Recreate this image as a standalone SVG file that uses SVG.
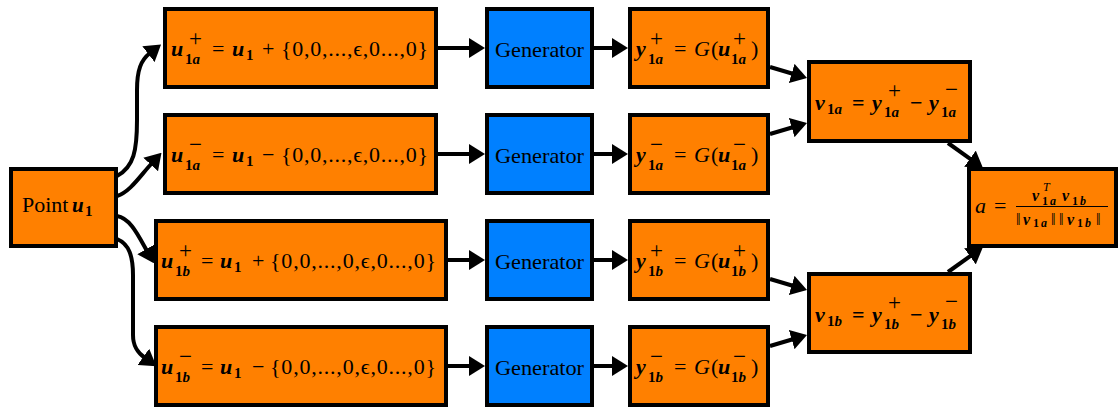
<svg xmlns="http://www.w3.org/2000/svg" width="1118" height="408" viewBox="0 0 1118 408">
<style>
.box{fill:#FF8000;stroke:#000;stroke-width:4}
.gen{fill:#0080FF;stroke:#000;stroke-width:4}
.t{font-family:"Liberation Serif","DejaVu Serif",serif;font-size:22px;fill:#000}
.bi{font-weight:bold;font-style:italic}
.b{font-weight:bold}
.n{font-weight:normal}
.i{font-style:italic}
.s{font-size:15px}
.sp{font-size:23px;font-weight:normal}
.c{fill:none;stroke:#000;stroke-width:4}
.f{font-size:16px}
.fs{font-size:12px}
.g{font-size:21px}
</style>
<defs>
<marker id="ah" markerUnits="userSpaceOnUse" viewBox="0 0 16 20" refX="2" refY="10" markerWidth="16" markerHeight="20" orient="auto">
<path d="M0,0 L16,10 L0,20 Z" fill="#000"/>
</marker>
</defs>
<g id="connectors" class="c" marker-end="url(#ah)">
<path d="M117,176 C134,167 137,150 137,120 L137,90 C137,70 141,60 150,53"/>
<path d="M117,196 C130,192 140,176 152,163"/>
<path d="M117,216 C130,218 138,235 147,251"/>
<path d="M117,239 C129,244 133,256 133,275 L133,335 C133,347 138,353 145,358"/>
<path d="M436,48 L471,48"/>
<path d="M436,154 L471,154"/>
<path d="M446,260 L471,260"/>
<path d="M446,366 L471,366"/>
<path d="M592,48 L614,48"/>
<path d="M592,154 L614,154"/>
<path d="M592,260 L614,260"/>
<path d="M592,366 L614,366"/>
<path d="M770,67 L793.6,74"/>
<path d="M770,134 L793.6,127"/>
<path d="M770,279 L793.6,286"/>
<path d="M770,346 L793.6,339"/>
<path d="M948,143 L971.6,159.9"/>
<path d="M948,272 L971.6,255.1"/>
</g>
<g id="point">
<rect class="box" x="11" y="169" width="105" height="77"/>
<text class="t" x="22" y="212" font-size="20">Point <tspan x="72" class="bi" font-size="21">u</tspan><tspan x="85" y="216" class="s b">1</tspan></text>
</g>
<g id="u1a-plus">
<rect class="box" x="165" y="9" width="271" height="78"/>
<text class="t" y="56"><tspan x="171" class="bi">u</tspan><tspan x="185" y="64" class="s b">1</tspan><tspan class="s bi">a</tspan><tspan x="189" y="46" class="sp">+</tspan><tspan x="212" y="56">=</tspan><tspan x="232" class="bi">u</tspan><tspan x="246" y="60" class="s b">1</tspan><tspan x="262" y="56">+</tspan></text>
<text class="t" x="281" y="56" textLength="147" lengthAdjust="spacing">{0,0,...,ϵ,0...,0}</text>
</g>
<g id="u1a-minus">
<rect class="box" x="165" y="115" width="271" height="78"/>
<text class="t" y="162"><tspan x="171" class="bi">u</tspan><tspan x="185" y="170" class="s b">1</tspan><tspan class="s bi">a</tspan><tspan x="189" y="152" class="sp">−</tspan><tspan x="212" y="162">=</tspan><tspan x="232" class="bi">u</tspan><tspan x="246" y="166" class="s b">1</tspan><tspan x="262" y="162">−</tspan></text>
<text class="t" x="281" y="162" textLength="147" lengthAdjust="spacing">{0,0,...,ϵ,0...,0}</text>
</g>
<g id="u1b-plus">
<rect class="box" x="156" y="221" width="290" height="78"/>
<text class="t" y="268"><tspan x="161" class="bi">u</tspan><tspan x="175" y="276" class="s b">1</tspan><tspan class="s bi">b</tspan><tspan x="179" y="258" class="sp">+</tspan><tspan x="201" y="268">=</tspan><tspan x="220" class="bi">u</tspan><tspan x="234" y="272" class="s b">1</tspan><tspan x="252" y="268">+</tspan></text>
<text class="t" x="270" y="268" textLength="166" lengthAdjust="spacing">{0,0,...,0,ϵ,0...,0}</text>
</g>
<g id="u1b-minus">
<rect class="box" x="156" y="327" width="290" height="78"/>
<text class="t" y="374"><tspan x="161" class="bi">u</tspan><tspan x="175" y="382" class="s b">1</tspan><tspan class="s bi">b</tspan><tspan x="179" y="364" class="sp">−</tspan><tspan x="201" y="374">=</tspan><tspan x="220" class="bi">u</tspan><tspan x="234" y="378" class="s b">1</tspan><tspan x="252" y="374">−</tspan></text>
<text class="t" x="270" y="374" textLength="166" lengthAdjust="spacing">{0,0,...,0,ϵ,0...,0}</text>
</g>
<g id="gen1"><rect class="gen" x="487" y="9" width="105" height="78"/><text class="t g" x="495" y="57" textLength="89" lengthAdjust="spacingAndGlyphs">Generator</text></g>
<g id="gen2"><rect class="gen" x="487" y="115" width="105" height="78"/><text class="t g" x="495" y="163" textLength="89" lengthAdjust="spacingAndGlyphs">Generator</text></g>
<g id="gen3"><rect class="gen" x="487" y="221" width="105" height="78"/><text class="t g" x="495" y="269" textLength="89" lengthAdjust="spacingAndGlyphs">Generator</text></g>
<g id="gen4"><rect class="gen" x="487" y="327" width="105" height="78"/><text class="t g" x="495" y="375" textLength="89" lengthAdjust="spacingAndGlyphs">Generator</text></g>
<g id="y1a-plus">
<rect class="box" x="630" y="9" width="138" height="78"/>
<text class="t" y="56"><tspan x="636" class="bi">y</tspan><tspan x="648" y="64" class="s b">1</tspan><tspan class="s bi">a</tspan><tspan x="650" y="46" class="sp">+</tspan><tspan x="674" y="56">=</tspan><tspan x="694" class="i">G</tspan><tspan x="711">(</tspan><tspan x="718" class="bi">u</tspan><tspan x="731" y="64" class="s b">1</tspan><tspan class="s bi">a</tspan><tspan x="733" y="46" class="sp">+</tspan><tspan x="751" y="56">)</tspan></text>
</g>
<g id="y1a-minus">
<rect class="box" x="630" y="115" width="138" height="78"/>
<text class="t" y="162"><tspan x="636" class="bi">y</tspan><tspan x="648" y="170" class="s b">1</tspan><tspan class="s bi">a</tspan><tspan x="650" y="152" class="sp">−</tspan><tspan x="674" y="162">=</tspan><tspan x="694" class="i">G</tspan><tspan x="711">(</tspan><tspan x="718" class="bi">u</tspan><tspan x="731" y="170" class="s b">1</tspan><tspan class="s bi">a</tspan><tspan x="733" y="152" class="sp">−</tspan><tspan x="751" y="162">)</tspan></text>
</g>
<g id="y1b-plus">
<rect class="box" x="630" y="221" width="138" height="78"/>
<text class="t" y="268"><tspan x="636" class="bi">y</tspan><tspan x="648" y="276" class="s b">1</tspan><tspan class="s bi">b</tspan><tspan x="650" y="258" class="sp">+</tspan><tspan x="674" y="268">=</tspan><tspan x="694" class="i">G</tspan><tspan x="711">(</tspan><tspan x="718" class="bi">u</tspan><tspan x="731" y="276" class="s b">1</tspan><tspan class="s bi">b</tspan><tspan x="733" y="258" class="sp">+</tspan><tspan x="751" y="268">)</tspan></text>
</g>
<g id="y1b-minus">
<rect class="box" x="630" y="327" width="138" height="78"/>
<text class="t" y="374"><tspan x="636" class="bi">y</tspan><tspan x="648" y="382" class="s b">1</tspan><tspan class="s bi">b</tspan><tspan x="650" y="364" class="sp">−</tspan><tspan x="674" y="374">=</tspan><tspan x="694" class="i">G</tspan><tspan x="711">(</tspan><tspan x="718" class="bi">u</tspan><tspan x="731" y="382" class="s b">1</tspan><tspan class="s bi">b</tspan><tspan x="733" y="364" class="sp">−</tspan><tspan x="751" y="374">)</tspan></text>
</g>
<g id="v1a">
<rect class="box" x="809" y="62" width="161" height="79"/>
<text class="t b" y="110"><tspan x="815" class="bi">v</tspan><tspan x="827" y="114" class="s">1</tspan><tspan class="s bi">a</tspan><tspan x="852" y="110">=</tspan><tspan x="872" class="bi">y</tspan><tspan x="884" y="117" class="s">1</tspan><tspan class="s bi">a</tspan><tspan x="888" y="98" class="sp">+</tspan><tspan x="910" y="110">−</tspan><tspan x="929" class="bi">y</tspan><tspan x="941" y="117" class="s">1</tspan><tspan class="s bi">a</tspan><tspan x="945" y="97" class="sp">−</tspan></text>
</g>
<g id="v1b">
<rect class="box" x="809" y="274" width="161" height="78"/>
<text class="t b" y="322"><tspan x="815" class="bi">v</tspan><tspan x="827" y="326" class="s">1</tspan><tspan class="s bi">b</tspan><tspan x="852" y="322">=</tspan><tspan x="872" class="bi">y</tspan><tspan x="884" y="329" class="s">1</tspan><tspan class="s bi">b</tspan><tspan x="888" y="310" class="sp">+</tspan><tspan x="910" y="322">−</tspan><tspan x="929" class="bi">y</tspan><tspan x="941" y="329" class="s">1</tspan><tspan class="s bi">b</tspan><tspan x="945" y="309" class="sp">−</tspan></text>
</g>
<g id="cosine">
<rect class="box" x="969" y="169" width="147" height="77"/>
<text class="t" y="213"><tspan x="975" class="i">a</tspan><tspan x="994">=</tspan></text>
<text class="t f b" y="201"><tspan x="1032" class="bi">v</tspan><tspan x="1042" y="205" class="fs">1</tspan><tspan x="1050" class="fs bi">a</tspan><tspan x="1043" y="191" class="fs i n">T</tspan><tspan x="1062" y="201" class="bi">v</tspan><tspan x="1072" y="205" class="fs">1</tspan><tspan x="1080" class="fs bi">b</tspan></text>
<line x1="1016" y1="206.5" x2="1108" y2="206.5" stroke="#000" stroke-width="1.2"/>
<text class="t f b" y="225"><tspan x="1016" class="n">‖</tspan><tspan x="1023" class="bi">v</tspan><tspan x="1033" y="227" class="fs">1</tspan><tspan x="1041" class="fs bi">a</tspan><tspan x="1051" y="225" class="n">‖</tspan><tspan x="1059" class="n">‖</tspan><tspan x="1067" class="bi">v</tspan><tspan x="1077" y="227" class="fs">1</tspan><tspan x="1085" class="fs bi">b</tspan><tspan x="1096" y="225" class="n">‖</tspan></text>
</g>
</svg>
